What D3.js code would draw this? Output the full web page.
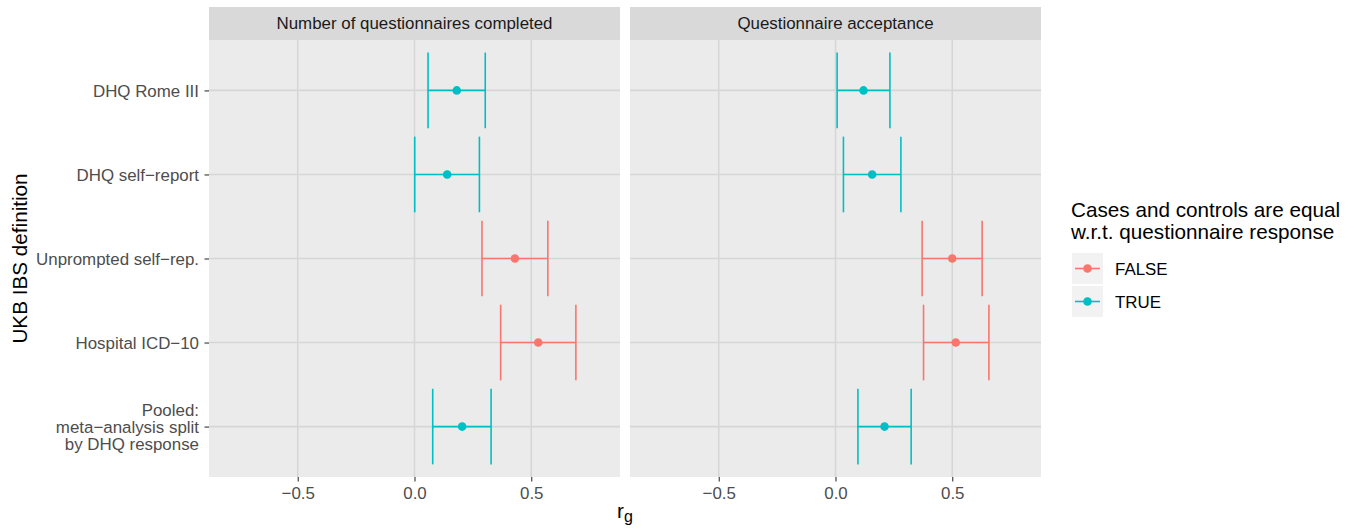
<!DOCTYPE html>
<html>
<head>
<meta charset="utf-8">
<script src="https://cdn.jsdelivr.net/npm/d3@7"></script>
<style>
  html, body { margin: 0; padding: 0; background: #ffffff; }
  svg { display: block; font-family: "Liberation Sans", Arial, Helvetica, sans-serif; }
</style>
</head>
<body>
<svg id="chart" width="1357" height="531"></svg>
<script>
// IBS definitions (top to bottom) and the two questionnaire-response facets
const definitions = [
  "DHQ Rome III",
  "DHQ self\u2212report",
  "Unprompted self\u2212rep.",
  "Hospital ICD\u221210",
  "Pooled:\nmeta\u2212analysis split\nby DHQ response"
];
const facets = ["Number of questionnaires completed", "Questionnaire acceptance"];

// whether cases and controls are equal w.r.t. questionnaire response
const equalResponse = [true, true, false, false, true];

// genetic correlation r_g with confidence limits, per facet
const rgCompleted = [0.181, 0.140, 0.430, 0.530, 0.204];
const loCompleted = [0.058, 0.001, 0.289, 0.369, 0.078];
const hiCompleted = [0.303, 0.278, 0.571, 0.691, 0.328];

const rgAcceptance = [0.120, 0.157, 0.500, 0.515, 0.210];
const loAcceptance = [0.007, 0.034, 0.371, 0.377, 0.096];
const hiAcceptance = [0.233, 0.280, 0.628, 0.657, 0.324];

const xTicks = [-0.5, 0, 0.5];
const legendLabels = ["FALSE", "TRUE"];
const legendValues = [false, true];

const colour = d3.scaleOrdinal().domain([false, true]).range(["#F8766D", "#00BFC4"]);

const facetData = [
  { rg: rgCompleted, lo: loCompleted, hi: hiCompleted },
  { rg: rgAcceptance, lo: loAcceptance, hi: hiAcceptance }
];

const svg = d3.select("#chart");
const font = "\"Liberation Sans\", Arial, Helvetica, sans-serif";
const smallSize = "16.9px", largeSize = "20.7px";

const panelTop = 40, panelBottom = 477, stripTop = 7;
const panelLefts = [209, 630], panelWidth = 411;

const y = d3.scalePoint().domain(definitions).range([panelTop, panelBottom]).padding(0.6);
const capHalf = y.step() * 0.45;

facets.forEach((facet, fi) => {
  const left = panelLefts[fi];
  const x = d3.scaleLinear().domain([-0.88, 0.88]).range([left, left + panelWidth]);
  const g = svg.append("g");

  // strip
  g.append("rect").attr("x", left).attr("y", stripTop)
    .attr("width", panelWidth).attr("height", panelTop - stripTop).attr("fill", "#d9d9d9");
  g.append("text").attr("x", left + panelWidth / 2).attr("y", 29.3)
    .attr("text-anchor", "middle").attr("font-size", smallSize).attr("fill", "#1a1a1a")
    .text(facet);

  // panel background
  g.append("rect").attr("x", left).attr("y", panelTop)
    .attr("width", panelWidth).attr("height", panelBottom - panelTop).attr("fill", "#ebebeb");

  // grid
  g.selectAll(".vgrid").data(xTicks).join("line")
    .attr("x1", d => x(d)).attr("x2", d => x(d))
    .attr("y1", panelTop).attr("y2", panelBottom)
    .attr("stroke", "#d6d6d6").attr("stroke-width", 1.6);
  g.selectAll(".hgrid").data(definitions).join("line")
    .attr("x1", left).attr("x2", left + panelWidth)
    .attr("y1", d => y(d)).attr("y2", d => y(d))
    .attr("stroke", "#d6d6d6").attr("stroke-width", 1.6);

  // x axis
  const xAxis = g.append("g").attr("transform", `translate(0,${panelBottom})`)
    .call(d3.axisBottom(x).tickValues(xTicks).tickFormat(d3.format(".1f")).tickSize(4.5).tickPadding(6));
  xAxis.select(".domain").remove();
  xAxis.selectAll(".tick line").attr("stroke", "#333333").attr("stroke-width", 1.1);
  xAxis.selectAll(".tick text").attr("fill", "#4d4d4d").attr("font-size", smallSize)
    .attr("font-family", font);

  // error bars and points
  const d = facetData[fi];
  const rows = definitions.map((def, i) => ({
    def, rg: d.rg[i], lo: d.lo[i], hi: d.hi[i], eq: equalResponse[i]
  }));
  const bars = g.selectAll(".bar").data(rows).join("g");
  bars.append("line")
    .attr("x1", r => x(r.lo)).attr("x2", r => x(r.hi))
    .attr("y1", r => y(r.def)).attr("y2", r => y(r.def))
    .attr("stroke", r => colour(r.eq)).attr("stroke-width", 1.6);
  bars.append("line")
    .attr("x1", r => x(r.lo)).attr("x2", r => x(r.lo))
    .attr("y1", r => y(r.def) - capHalf).attr("y2", r => y(r.def) + capHalf)
    .attr("stroke", r => colour(r.eq)).attr("stroke-width", 1.6);
  bars.append("line")
    .attr("x1", r => x(r.hi)).attr("x2", r => x(r.hi))
    .attr("y1", r => y(r.def) - capHalf).attr("y2", r => y(r.def) + capHalf)
    .attr("stroke", r => colour(r.eq)).attr("stroke-width", 1.6);
  bars.append("circle")
    .attr("cx", r => x(r.rg)).attr("cy", r => y(r.def)).attr("r", 4.3)
    .attr("fill", r => colour(r.eq));
});

// y axis (left panel only)
const yAxis = svg.append("g").attr("transform", `translate(${panelLefts[0]},0)`)
  .call(d3.axisLeft(y).tickSize(4.5).tickPadding(5.5).tickFormat(""));
yAxis.select(".domain").remove();
yAxis.selectAll(".tick line").attr("stroke", "#333333").attr("stroke-width", 1.1);
yAxis.selectAll(".tick").each(function(def) {
  const lines = def.split("\n");
  const lh = 17;
  const t = d3.select(this).append("text")
    .attr("x", -10).attr("text-anchor", "end")
    .attr("fill", "#4d4d4d").attr("font-size", smallSize).attr("font-family", font);
  lines.forEach((ln, k) => {
    t.append("tspan").attr("x", -10)
      .attr("y", 6 + (k - (lines.length - 1) / 2) * lh)
      .text(ln);
  });
});

// axis titles
svg.append("text")
  .attr("transform", `translate(27,${(panelTop + panelBottom) / 2}) rotate(-90)`)
  .attr("text-anchor", "middle").attr("font-size", largeSize).attr("fill", "#000")
  .text("UKB IBS definition");

const xt = svg.append("text")
  .attr("x", (panelLefts[0] + panelLefts[1] + panelWidth) / 2).attr("y", 518)
  .attr("text-anchor", "middle").attr("font-size", largeSize).attr("fill", "#000");
xt.append("tspan").text("r");
xt.append("tspan").attr("font-size", "16px").attr("dy", 4).text("g");

// legend
const legend = svg.append("g");
legend.append("text").attr("x", 1071).attr("y", 217)
  .attr("font-size", largeSize).attr("fill", "#000").text("Cases and controls are equal");
legend.append("text").attr("x", 1071).attr("y", 239)
  .attr("font-size", largeSize).attr("fill", "#000").text("w.r.t. questionnaire response");

legendValues.forEach((v, i) => {
  const cy = 268.5 + i * 33;
  legend.append("rect").attr("x", 1071.5).attr("y", cy - 16).attr("width", 32).attr("height", 32)
    .attr("fill", "#f2f2f2").attr("stroke", "#ffffff").attr("stroke-width", 1);
  legend.append("line").attr("x1", 1075).attr("x2", 1100).attr("y1", cy).attr("y2", cy)
    .attr("stroke", colour(v)).attr("stroke-width", 1.6);
  legend.append("circle").attr("cx", 1087.5).attr("cy", cy).attr("r", 4.3).attr("fill", colour(v));
  legend.append("text").attr("x", 1115).attr("y", cy + 6)
    .attr("font-size", smallSize).attr("fill", "#000").text(legendLabels[i]);
});
</script>
</body>
</html>
